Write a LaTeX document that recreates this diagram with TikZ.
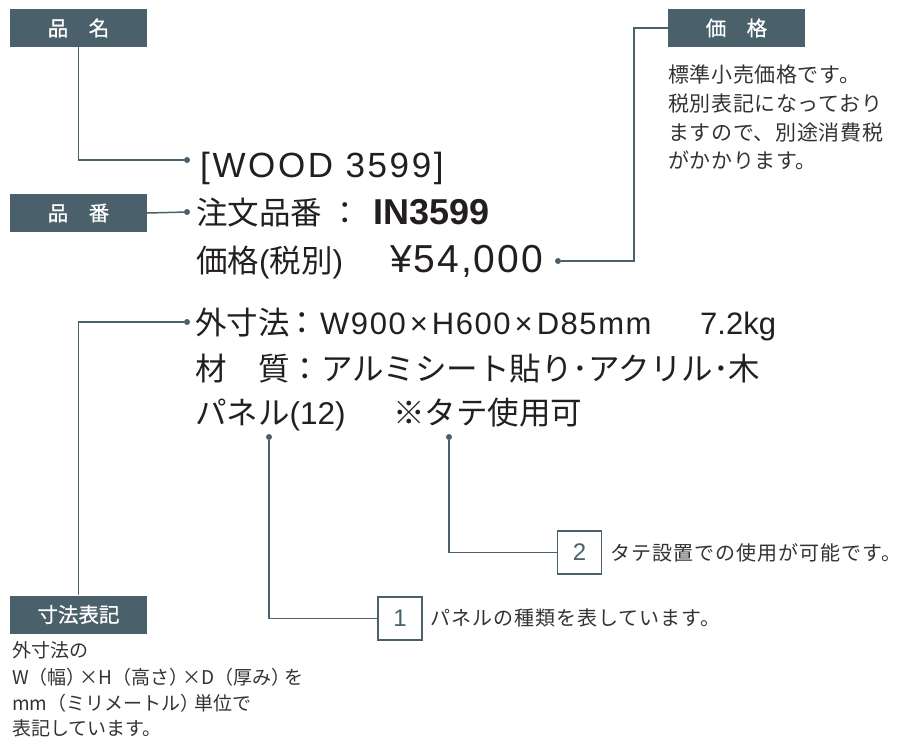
\documentclass[tikz,border=0pt]{standalone}
\usepackage{fontspec}
\setmainfont{Noto Sans CJK JP}
\newfontfamily\lat{Liberation Sans}
\definecolor{slate}{HTML}{4A616B}
\definecolor{ink}{HTML}{231F20}
\definecolor{grayink}{HTML}{333333}
\tikzset{
  hdr/.style={fill=slate, text=white, minimum width=137pt, minimum height=38pt, inner sep=0pt, font=\fontsize{20.5}{20.5}\selectfont\addfontfeature{FakeBold=0.8}},
  conn/.style={draw=slate, line width=1.5pt},
  dotc/.style={circle, fill=slate, inner sep=0pt, minimum size=6pt},
  big/.style={anchor=base west, inner sep=0pt, text=ink, font=\fontsize{31.5}{31.5}\selectfont},
  small/.style={anchor=base west, inner sep=0pt, text=grayink, font=\fontsize{21}{21}\selectfont\addfontfeature{LetterSpace=3}},
  note/.style={anchor=base west, inner sep=0pt, text=grayink, font=\fontsize{19}{19}\selectfont},
  expl/.style={anchor=base west, inner sep=0pt, text=grayink, font=\fontsize{20}{20}\selectfont\addfontfeature{LetterSpace=5}},
  numbox/.style={draw=slate, line width=1.5pt, fill=white, minimum width=44pt, minimum height=43pt, inner sep=0pt, text=slate, font=\lat\fontsize{24}{24}\selectfont}
}
\begin{document}
\begin{tikzpicture}[x=1pt,y=-1pt]
\useasboundingbox (0,0) rectangle (906,753);
% header boxes
\node[hdr] (hname) at (78.5,28) {品　名};
\node[hdr] (hnum) at (78.5,213) {品　番};
\node[hdr] (hprice) at (736.5,28) {価　格};
\node[hdr] (hdim) at (78.5,614.5) {寸法表記};
% main text
\node[big, font=\lat\fontsize{35}{35}\selectfont\addfontfeature{LetterSpace=7.5}] (t1) at (200,177) {[WOOD 3599]};
\node[big] (t2a) at (196,224) {注文品番\kern7pt：\kern-7pt};
\node[big, font=\lat\bfseries\fontsize{36}{36}\selectfont] (t2b) at (373,224) {IN3599};
\node[big] (t3a) at (196,272) {価格{\lat (}税別{\lat )}};
\node[big, font=\lat\fontsize{39}{39}\selectfont\addfontfeature{LetterSpace=5}] (t3b) at (390,272) {¥54,000};
\node[big] (t4a) at (195,334) {外寸法\kern-3pt：\kern3pt};
\node[big, font=\lat\fontsize{31}{31}\selectfont\addfontfeature{LetterSpace=5}] (t4b) at (320,334) {W900\kern4pt×\kern4pt H600\kern4pt×\kern4pt D85mm};
\node[big, font=\lat\fontsize{31}{31}\selectfont] (t4c) at (700,334) {7.2kg};
\node[big] (t5) at (195,380) {材　質：アルミシート貼り･アクリル･木};
\node[big] (t6a) at (195,424) {パネル{\lat (12)}};
\node[big] (t6b) at (393,424) {※タテ使用可};
% dots
\node[dotc] (d1) at (187,160) {};
\node[dotc] (d2) at (187,212) {};
\node[dotc] (d3) at (558,261) {};
\node[dotc] (d4) at (187,322) {};
\node[dotc] (d5) at (269,437) {};
\node[dotc] (d6) at (449,437) {};
% price notes
\node[small] (p1) at (668,82) {標準小売価格です。};
\node[small] (p2) at (668,111) {税別表記になっており};
\node[small] (p3) at (668,140) {ますので、別途消費税};
\node[small] (p4) at (668,168) {がかかります。};
% dimension notes
\node[note] (n1) at (12,657) {外寸法の};
\node[note] (n2) at (12,684) {W（幅）\kern-6pt×H（高さ）\kern-6pt×D（厚み）\kern-6pt を};
\node[note] (n3) at (12,710) {mm（ミリメートル）\kern-5pt 単位で};
\node[note] (n4) at (12,735) {表記しています。};
% number boxes
\node[numbox] (nb1) at (400,618.5) {1};
\node[numbox] (nb2) at (579.5,552.5) {2};
\node[expl] (e1) at (430,625) {パネルの種類を表しています。};
\node[expl] (e2) at (610,560) {タテ設置での使用が可能です。};
% connectors
\coordinate (cpr) at (634,28);
\draw[conn] (hname.south) |- (d1);
\draw[conn] (hnum.east) -- (d2);
\draw[conn] (d3) -| (cpr) -- (hprice.west);
\draw[conn] (d4) -| (hdim.north);
\draw[conn] (d5) |- (nb1.west);
\draw[conn] (d6) |- (nb2.west);
\end{tikzpicture}
\end{document}
